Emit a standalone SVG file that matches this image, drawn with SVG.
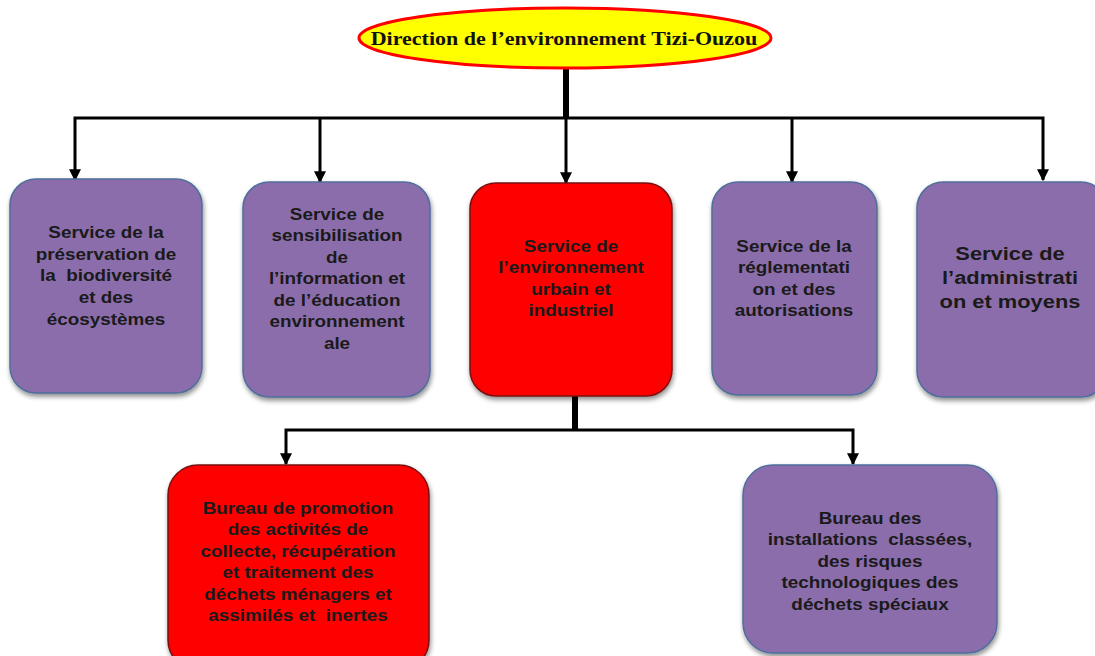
<svg xmlns="http://www.w3.org/2000/svg" width="1095" height="656" viewBox="0 0 1095 656">
<defs>
<filter id="sh" x="-10%" y="-10%" width="125%" height="125%">
<feGaussianBlur in="SourceAlpha" stdDeviation="2.5"/>
<feOffset dx="1" dy="3" result="b"/>
<feComponentTransfer><feFuncA type="linear" slope="0.45"/></feComponentTransfer>
<feMerge><feMergeNode/><feMergeNode in="SourceGraphic"/></feMerge>
</filter>
<marker id="ah" viewBox="0 0 10 10" refX="9" refY="5" markerWidth="4" markerHeight="4" orient="auto-start-reverse" markerUnits="strokeWidth">
<path d="M0,0 L10,5 L0,10 Z" fill="#000"/>
</marker>
</defs>
<style>
.p{fill:#8B6DAB;stroke:#4F6E9C;stroke-width:1.5;filter:url(#sh)}
.r{fill:#FF0000;stroke:#7a1010;stroke-width:1.5;filter:url(#sh)}
.t{font-family:"Liberation Sans",Arial,sans-serif;font-weight:bold;font-size:16px;fill:#1a1a1a;text-anchor:middle;white-space:pre}
.big{font-size:19px}
.c{fill:none;stroke:#000;stroke-width:3}
</style>
<rect width="1095" height="656" fill="#fff"/>
<g id="connectors">
<line x1="566" y1="68" x2="566" y2="118" stroke="#000" stroke-width="6"/>
<polyline class="c" points="75,180 75,118 1043,118 1043,180" marker-start="url(#ah)" marker-end="url(#ah)"/>
<line class="c" x1="320" y1="118" x2="320" y2="182" marker-end="url(#ah)"/>
<line class="c" x1="566" y1="118" x2="566" y2="183" marker-end="url(#ah)"/>
<line class="c" x1="792" y1="118" x2="792" y2="182" marker-end="url(#ah)"/>
<line x1="575" y1="396" x2="575" y2="431" stroke="#000" stroke-width="6"/>
<polyline class="c" points="286,464 286,430 853,430 853,464" marker-start="url(#ah)" marker-end="url(#ah)"/>
</g>
<g id="n0">
<ellipse cx="565" cy="38" rx="206" ry="30" fill="#FFFF00" stroke="#FF0000" stroke-width="3"/>
<text transform="translate(564,45) scale(1.19,1)" style="font-family:'Liberation Serif','Times New Roman',serif;font-weight:bold;font-size:18.5px;fill:#111;text-anchor:middle">Direction de l’environnement Tizi-Ouzou</text>
</g>
<g id="n1">
<rect class="p" x="10" y="179" width="192" height="214" rx="26"/>
<g transform="translate(106,0) scale(1.18,1)">
<text class="t" x="0" y="238">Service de la</text>
<text class="t" x="0" y="260">préservation de</text>
<text class="t" x="0" y="281.5">la  biodiversité</text>
<text class="t" x="0" y="303">et des</text>
<text class="t" x="0" y="325">écosystèmes</text>
</g>
</g>
<g id="n2">
<rect class="p" x="243" y="182" width="187" height="215" rx="26"/>
<g transform="translate(337,0) scale(1.18,1)">
<text class="t" x="0" y="220">Service de</text>
<text class="t" x="0" y="241.5">sensibilisation</text>
<text class="t" x="0" y="263">de</text>
<text class="t" x="0" y="284.5">l’information et</text>
<text class="t" x="0" y="306">de l’éducation</text>
<text class="t" x="0" y="327.5">environnement</text>
<text class="t" x="0" y="349">ale</text>
</g>
</g>
<g id="n3">
<rect class="r" x="470" y="183" width="202" height="213" rx="26"/>
<g transform="translate(571,0) scale(1.18,1)">
<text class="t" x="0" y="252">Service de</text>
<text class="t" x="0" y="273.5">l’environnement</text>
<text class="t" x="0" y="295">urbain et</text>
<text class="t" x="0" y="316.5">industriel</text>
</g>
</g>
<g id="n4">
<rect class="p" x="712" y="182" width="165" height="213" rx="26"/>
<g transform="translate(794,0) scale(1.18,1)">
<text class="t" x="0" y="252">Service de la</text>
<text class="t" x="0" y="273.5">réglementati</text>
<text class="t" x="0" y="295">on et des</text>
<text class="t" x="0" y="316.5">autorisations</text>
</g>
</g>
<g id="n5">
<rect class="p" x="917" y="182" width="190" height="215" rx="26"/>
<g transform="translate(1010,0) scale(1.15,1)">
<text class="t big" x="0" y="260">Service de</text>
<text class="t big" x="0" y="284">l’administrati</text>
<text class="t big" x="0" y="308">on et moyens</text>
</g>
</g>
<g id="n6">
<rect class="r" x="168" y="465" width="261" height="205" rx="30"/>
<g transform="translate(298,0) scale(1.18,1)">
<text class="t" x="0" y="514">Bureau de promotion</text>
<text class="t" x="0" y="535.5">des activités de</text>
<text class="t" x="0" y="557">collecte, récupération</text>
<text class="t" x="0" y="578.5">et traitement des</text>
<text class="t" x="0" y="600">déchets ménagers et</text>
<text class="t" x="0" y="621.5">assimilés et  inertes</text>
</g>
</g>
<g id="n7">
<rect class="p" x="743" y="465" width="254" height="188" rx="30"/>
<g transform="translate(870,0) scale(1.18,1)">
<text class="t" x="0" y="524">Bureau des</text>
<text class="t" x="0" y="545.5">installations  classées,</text>
<text class="t" x="0" y="567">des risques</text>
<text class="t" x="0" y="588.5">technologiques des</text>
<text class="t" x="0" y="610">déchets spéciaux</text>
</g>
</g>
</svg>
